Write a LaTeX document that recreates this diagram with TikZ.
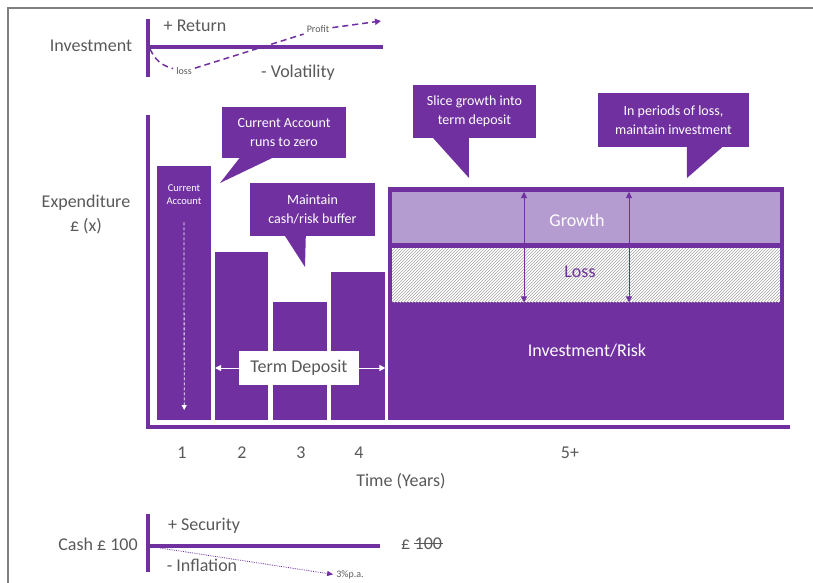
\documentclass[tikz,border=0pt]{standalone}
\usepackage{fontspec}
\setmainfont{Carlito}
\usepackage{xcolor}
\usetikzlibrary{shapes,arrows.meta,positioning,patterns,calc}

\definecolor{plum}{HTML}{7030A0}
\definecolor{lilac}{HTML}{B49BD0}
\definecolor{txtgray}{HTML}{595959}
\definecolor{framegray}{HTML}{808080}

\tikzset{
  tri/.tip={Triangle[length=6pt,width=6pt]},
  lbl/.style={anchor=base, text=txtgray, font=\fontsize{18}{24}\selectfont, inner sep=2pt},
  small/.style={anchor=base, text=txtgray, font=\fontsize{10}{12}\selectfont, inner sep=3pt},
  callbox/.style={fill=plum, text=white, font=\fontsize{14}{19}\selectfont, align=center, inner sep=0pt},
  bar/.style={fill=plum, anchor=south west, inner sep=0pt},
  axisline/.style={draw=plum, line width=4pt},
  scaleline/.style={draw=plum, line width=3.5pt},
  invdash/.style={draw=plum, line width=1.5pt, dash pattern=on 6pt off 4pt},
  whitearrow/.style={draw=white, line width=1pt, -tri},
  dblarrow/.style={draw=plum, line width=0.8pt, tri-tri}
}

\begin{document}
\begin{tikzpicture}[x=1pt, y=-1pt]
\useasboundingbox (0,0) rectangle (813,583);
\draw[framegray, line width=2.5pt] (8,590) -- (8,8) -- (820,8);

% investment scale
\node[lbl] (inv) at (91,52) {Investment};
\draw[scaleline] (148,19) -- (148,77);
\draw[scaleline] (148,47) -- (383,47);
\node[lbl] (ret) at (195,32) {+ Return};
\node[lbl] (vol) at (298,78) {- Volatility};
\node[small] (loss) at (184,75) {loss};
\node[small] (profit) at (318,33) {Profit};
\coordinate (inv0) at (150,49);
\coordinate (profend) at (381,21);
\draw[invdash] (inv0) to[out=-65,in=165] (loss);
\draw[invdash] (loss) -- (profit);
\draw[invdash, -tri] (profit) -- (profend);

% expenditure chart
\node[text=txtgray, font=\fontsize{18}{24}\selectfont, align=center] (exp) at (86,214.5) {Expenditure\\£ (x)};
\draw[axisline] (148,115) -- (148,427) -- (790,427);

\node[bar, minimum width=54pt, minimum height=254pt] (b1) at (157,420) {};
\node[bar, minimum width=53pt, minimum height=168pt] (b2) at (215,420) {};
\node[bar, minimum width=54pt, minimum height=118pt] (b3) at (273,420) {};
\node[bar, minimum width=54pt, minimum height=148pt] (b4) at (331,420) {};
\node[bar, minimum width=396pt, minimum height=233pt] (invbox) at (388,420) {};

\node[text=white, font=\fontsize{10.5}{13}\selectfont, align=center] (catext) at (184,195) {Current\\Account};
\draw[white, line width=0.8pt, dash pattern=on 3pt off 2pt, -{Triangle[length=5pt,width=5pt]}] ([yshift=-14pt]catext.south) -- ([yshift=10pt]b1.south);

\node[fill=lilac, minimum width=388pt, minimum height=51pt, inner sep=0pt, anchor=north west] (growth) at (392,192) {};
\node[fill=white, postaction={pattern=north east lines, pattern color=gray!70}, minimum width=388pt, minimum height=54pt, inner sep=0pt, anchor=north west] (lossbox) at (392,248) {};
\node[anchor=base, text=white, font=\fontsize{18}{24}\selectfont] (growthtxt) at (577,226) {Growth};
\node[anchor=base, text=plum, font=\fontsize{18}{24}\selectfont] (losstxt) at (580,277) {Loss};
\node[anchor=base, text=white, font=\fontsize{18}{24}\selectfont] (risktxt) at (587,356) {Investment/Risk};
\coordinate (s1) at (524,0);
\coordinate (s2) at (629,0);
\draw[dblarrow] (growth.north -| s1) -- (lossbox.south -| s1);
\draw[dblarrow] (growth.north -| s2) -- (lossbox.south -| s2);

\node[fill=white, text=txtgray, font=\fontsize{18}{24}\selectfont, minimum width=120pt, minimum height=34pt, inner sep=0pt] (td) at (299,368) {Term Deposit};
\draw[whitearrow] (td.west) -- (td.west -| b2.west);
\draw[whitearrow] (td.east) -- (td.east -| b4.east);

% callouts
\node[callbox, minimum width=124pt, minimum height=51pt] (c1) at (284,132.5) {Current Account\\runs to zero};
\fill[plum] ([xshift=18pt,yshift=0.5pt]c1.south west) -- (220,183) -- ([xshift=51pt,yshift=0.5pt]c1.south west) -- cycle;
\node[callbox, minimum width=125pt, minimum height=53pt] (c2) at (312.5,209.5) {Maintain\\cash/risk buffer};
\fill[plum] ([xshift=35pt,yshift=0.5pt]c2.south west) -- (305,267) -- ([xshift=56pt,yshift=0.5pt]c2.south west) -- cycle;
\node[callbox, minimum width=123pt, minimum height=53pt] (c3) at (474.5,111.5) {Slice growth into\\term deposit};
\fill[plum] ([xshift=20pt,yshift=0.5pt]c3.south west) -- (469,178) -- ([xshift=56pt,yshift=0.5pt]c3.south west) -- cycle;
\node[callbox, minimum width=151pt, minimum height=54pt] (c4) at (673.5,120) {In periods of loss,\\maintain investment};
\fill[plum] ([xshift=89pt,yshift=0.5pt]c4.south west) -- (687,178) -- ([xshift=125pt,yshift=0.5pt]c4.south west) -- cycle;

% time axis
\node[lbl] (y1) at (182,458) {1};
\node[lbl] (y2) at (242,458) {2};
\node[lbl] (y3) at (301,458) {3};
\node[lbl] (y4) at (359,458) {4};
\node[lbl] (y5) at (570,458) {5+};
\node[lbl] (time) at (401,486) {Time (Years)};

% cash scale
\node[lbl] (cash) at (98,550) {Cash £ 100};
\draw[scaleline] (148,514) -- (148,572);
\draw[scaleline] (148,546) -- (380,546);
\node[lbl] (sec) at (204,530) {+ Security};
\node[lbl] (infl) at (202,571) {- Inflation};
\node[lbl, anchor=base west] (pound) at (399,549) {£};
\node[lbl, anchor=base west] (hundred) at (pound.base east) {100};
\draw[txtgray, line width=1pt] ([xshift=1.5pt,yshift=5.5pt]hundred.base west) -- ([xshift=-1.5pt,yshift=5.5pt]hundred.base east);
\node[small] (pa) at (350,577) {3\%p.a.};
\coordinate (cash0) at (160,548);
\draw[plum, line width=0.8pt, densely dotted, -{Triangle[length=6pt,width=5pt]}] (cash0) -- (pa.west);
\end{tikzpicture}
\end{document}
